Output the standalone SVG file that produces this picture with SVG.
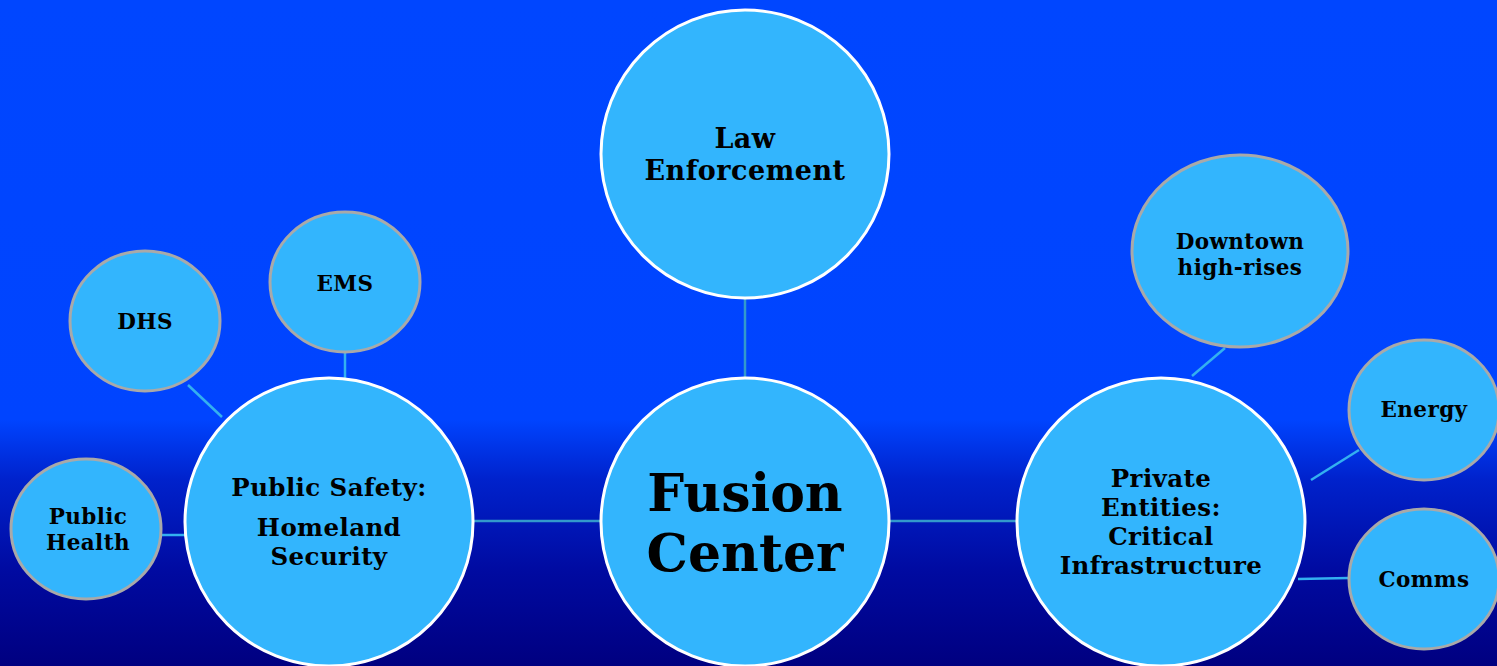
<svg xmlns="http://www.w3.org/2000/svg" width="1497" height="666" viewBox="0 0 1497 666">
<defs>
<linearGradient id="bg" x1="0" y1="0" x2="0" y2="666" gradientUnits="userSpaceOnUse">
<stop offset="0" stop-color="#0046FF"/>
<stop offset="0.63" stop-color="#0044FF"/>
<stop offset="0.72" stop-color="#0022CC"/>
<stop offset="0.86" stop-color="#000AA0"/>
<stop offset="1" stop-color="#000080"/>
</linearGradient>
<style>
.big{fill:#33B5FD;stroke:#FFFFFF;stroke-width:3}
.small{fill:#33B5FD;stroke:#A9A9A9;stroke-width:3}
.t{font-family:"DejaVu Serif","Liberation Serif",serif;font-weight:bold;fill:#000;text-anchor:middle}
.s{font-size:21.5px;letter-spacing:0.4px}
.m{font-size:24.5px;letter-spacing:0.4px}
.con line{stroke:#33B0F0;stroke-width:2.5}
</style>
</defs>
<rect width="1497" height="666" fill="url(#bg)"/>
<g id="connectors" class="con">
<line x1="745" y1="298" x2="745" y2="378" style="stroke:#3399CC"/>
<line x1="474" y1="521" x2="600" y2="521" style="stroke:#3399CC"/>
<line x1="890" y1="521" x2="1017" y2="521" style="stroke:#3399CC"/>
<line x1="188" y1="385" x2="222" y2="417"/>
<line x1="345" y1="352" x2="345" y2="378"/>
<line x1="162" y1="535" x2="185" y2="535"/>
<line x1="1225" y1="348" x2="1192" y2="376"/>
<line x1="1359" y1="450" x2="1311" y2="480"/>
<line x1="1298" y1="579" x2="1349" y2="578"/>
</g>
<g id="law">
<circle class="big" cx="745" cy="154" r="144"/>
<text class="t" x="745" y="148" font-size="27" letter-spacing="0.5">Law</text>
<text class="t" x="745" y="180" font-size="27" letter-spacing="0.5">Enforcement</text>
</g>
<g id="fusion">
<circle class="big" cx="745" cy="522" r="144"/>
<text class="t" x="745" y="511" font-size="52">Fusion</text>
<text class="t" x="745" y="571" font-size="52">Center</text>
</g>
<g id="publicsafety">
<circle class="big" cx="329" cy="522" r="144"/>
<text class="t m" x="329" y="496">Public Safety:</text>
<text class="t m" x="329" y="536">Homeland</text>
<text class="t m" x="329" y="565">Security</text>
</g>
<g id="private">
<circle class="big" cx="1161" cy="522" r="144"/>
<text class="t m" x="1161" y="487">Private</text>
<text class="t m" x="1161" y="516">Entities:</text>
<text class="t m" x="1161" y="545">Critical</text>
<text class="t m" x="1161" y="574">Infrastructure</text>
</g>
<g id="dhs">
<ellipse class="small" cx="145" cy="321" rx="75" ry="70"/>
<text class="t s" x="145" y="329">DHS</text>
</g>
<g id="ems">
<ellipse class="small" cx="345" cy="282" rx="75" ry="70"/>
<text class="t s" x="345" y="291">EMS</text>
</g>
<g id="publichealth">
<ellipse class="small" cx="86" cy="529" rx="75" ry="70"/>
<text class="t s" x="88" y="524">Public</text>
<text class="t s" x="88" y="550">Health</text>
</g>
<g id="downtown">
<ellipse class="small" cx="1240" cy="251" rx="108" ry="96"/>
<text class="t s" x="1240" y="249">Downtown</text>
<text class="t s" x="1240" y="275">high-rises</text>
</g>
<g id="energy">
<ellipse class="small" cx="1424" cy="410" rx="75" ry="70"/>
<text class="t s" x="1424" y="417">Energy</text>
</g>
<g id="comms">
<ellipse class="small" cx="1424" cy="579" rx="75" ry="70"/>
<text class="t s" x="1424" y="587">Comms</text>
</g>
</svg>
